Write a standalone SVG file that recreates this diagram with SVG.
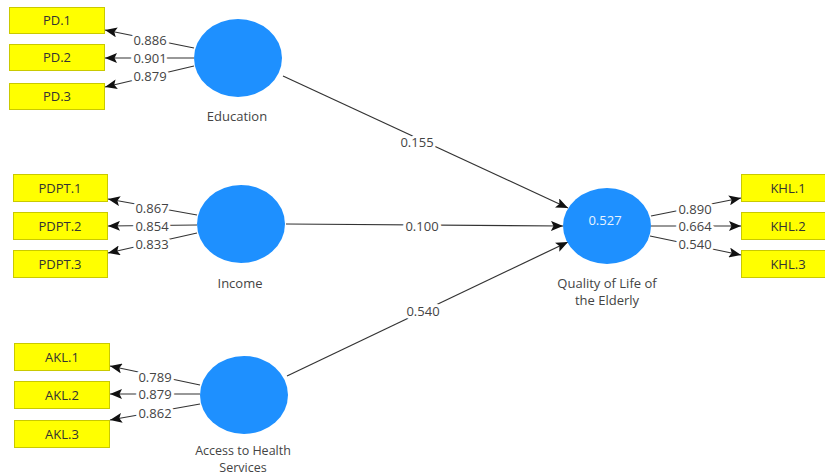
<svg xmlns="http://www.w3.org/2000/svg" width="825" height="476" viewBox="0 0 825 476">
<defs>
<marker id="ah" viewBox="0 0 12 10" refX="12" refY="5" markerWidth="12" markerHeight="10" markerUnits="userSpaceOnUse" orient="auto">
<path d="M0,0 L12,5 L0,10 L2.5,5 Z" fill="#111"/>
</marker>
<style>
.box{fill:#ffff00;stroke:#c9c900;stroke-width:1}
.bt{font-family:"Open Sans","Noto Sans",sans-serif;font-size:13px;fill:#333;text-anchor:middle}
.lv{fill:#1e90ff}
.nt{font-family:"Open Sans","Noto Sans",sans-serif;font-size:13px;fill:#444;text-anchor:middle}
.sm{font-size:12.5px}
.ln{stroke:#333;stroke-width:1.2;fill:none;marker-end:url(#ah)}
.lb{font-family:"Open Sans","Noto Sans",sans-serif;font-size:13px;fill:#444;text-anchor:middle;stroke:#fff;stroke-width:6px;paint-order:stroke;stroke-linejoin:round}
.r2{font-family:"Open Sans","Noto Sans",sans-serif;font-size:13px;fill:#e8f3ff;text-anchor:middle}
</style>
</defs>
<rect width="825" height="476" fill="#fff"/>
<g id="connectors">
<line class="ln" x1="194" y1="48" x2="105" y2="30"/>
<line class="ln" x1="194" y1="58" x2="105" y2="58"/>
<line class="ln" x1="194" y1="66" x2="105" y2="87"/>
<line class="ln" x1="197" y1="215" x2="108" y2="199"/>
<line class="ln" x1="197" y1="225" x2="108" y2="226"/>
<line class="ln" x1="197" y1="233" x2="108" y2="253"/>
<line class="ln" x1="200" y1="385" x2="110" y2="366"/>
<line class="ln" x1="200" y1="394" x2="110" y2="394"/>
<line class="ln" x1="200" y1="404" x2="110" y2="420"/>
<line class="ln" x1="651" y1="216" x2="741" y2="198"/>
<line class="ln" x1="651" y1="226" x2="741" y2="226"/>
<line class="ln" x1="650" y1="236" x2="741" y2="255"/>
<line class="ln" x1="283" y1="76" x2="568" y2="208"/>
<line class="ln" x1="286" y1="224" x2="563" y2="226"/>
<line class="ln" x1="287" y1="376" x2="568" y2="242"/>
<text class="lb" x="150" y="45">0.886</text>
<text class="lb" x="150" y="63">0.901</text>
<text class="lb" x="150" y="81">0.879</text>
<text class="lb" x="152" y="213">0.867</text>
<text class="lb" x="152" y="231">0.854</text>
<text class="lb" x="152" y="249">0.833</text>
<text class="lb" x="155" y="382">0.789</text>
<text class="lb" x="155" y="399">0.879</text>
<text class="lb" x="155" y="418">0.862</text>
<text class="lb" x="695" y="214">0.890</text>
<text class="lb" x="695" y="231">0.664</text>
<text class="lb" x="695" y="249">0.540</text>
<text class="lb" x="417" y="147">0.155</text>
<text class="lb" x="422" y="231">0.100</text>
<text class="lb" x="423" y="316">0.540</text>
</g>
<g id="PD1"><rect class="box" x="9.5" y="7.5" width="95" height="26"/><text class="bt" x="57" y="25">PD.1</text></g>
<g id="PD2"><rect class="box" x="9.5" y="44.5" width="95" height="26"/><text class="bt" x="57" y="62">PD.2</text></g>
<g id="PD3"><rect class="box" x="9.5" y="83.5" width="95" height="26"/><text class="bt" x="57" y="101">PD.3</text></g>
<g id="PDPT1"><rect class="box" x="13.5" y="174.5" width="94" height="27"/><text class="bt" x="60" y="193">PDPT.1</text></g>
<g id="PDPT2"><rect class="box" x="13.5" y="212.5" width="94" height="27"/><text class="bt" x="60" y="231">PDPT.2</text></g>
<g id="PDPT3"><rect class="box" x="13.5" y="250.5" width="94" height="27"/><text class="bt" x="60" y="269">PDPT.3</text></g>
<g id="AKL1"><rect class="box" x="14.5" y="343.5" width="95" height="27"/><text class="bt" x="62" y="362">AKL.1</text></g>
<g id="AKL2"><rect class="box" x="14.5" y="381.5" width="95" height="27"/><text class="bt" x="62" y="400">AKL.2</text></g>
<g id="AKL3"><rect class="box" x="14.5" y="420.5" width="95" height="27"/><text class="bt" x="62" y="439">AKL.3</text></g>
<g id="KHL1"><rect class="box" x="741.5" y="174.5" width="95" height="27"/><text class="bt" x="788" y="193">KHL.1</text></g>
<g id="KHL2"><rect class="box" x="741.5" y="212.5" width="95" height="27"/><text class="bt" x="788" y="231">KHL.2</text></g>
<g id="KHL3"><rect class="box" x="741.5" y="250.5" width="95" height="27"/><text class="bt" x="788" y="269">KHL.3</text></g>
<g id="Education"><ellipse class="lv" cx="238" cy="58" rx="44" ry="39"/><text class="nt" x="237" y="121">Education</text></g>
<g id="Income"><ellipse class="lv" cx="241" cy="224" rx="44" ry="39"/><text class="nt" x="240" y="288">Income</text></g>
<g id="Access"><ellipse class="lv" cx="244" cy="395" rx="44" ry="39"/><text class="nt sm" x="243" y="455">Access to Health</text><text class="nt sm" x="243" y="472">Services</text></g>
<g id="Quality"><ellipse class="lv" cx="607" cy="226" rx="44" ry="38"/><text class="r2" x="605" y="225">0.527</text><text class="nt" x="607" y="288">Quality of Life of</text><text class="nt" x="607" y="305">the Elderly</text></g>
</svg>
